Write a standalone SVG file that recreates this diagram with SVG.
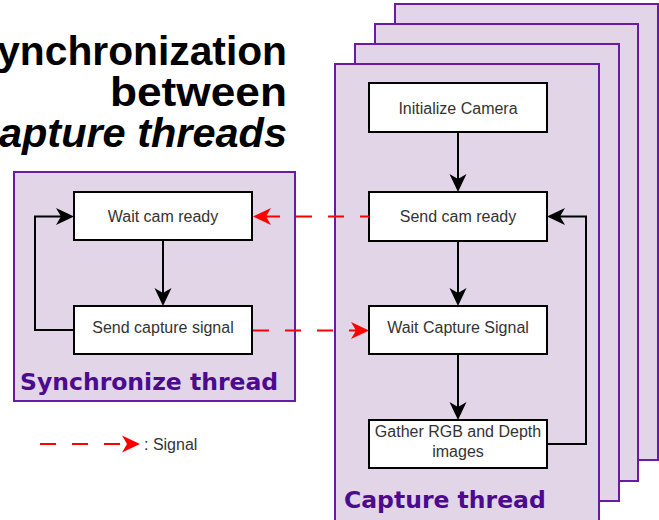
<svg xmlns="http://www.w3.org/2000/svg" width="659" height="520" viewBox="0 0 659 520">
<style>
.thread{fill:#e1d5e7;stroke:#6a1ba3;stroke-width:2}
.node{fill:#ffffff;stroke:#000000;stroke-width:2}
.nt{font-family:"Liberation Sans",Arial,sans-serif;font-size:16px;fill:#333333;text-anchor:middle}
.title{font-family:"Liberation Sans",Arial,sans-serif;font-size:40px;font-weight:bold;fill:#000000;text-anchor:end}
.tl{font-family:"DejaVu Sans",Verdana,sans-serif;font-size:23.5px;font-weight:bold;fill:#4c0a8e}
.flow{fill:none;stroke:#000000;stroke-width:2}
.sig{fill:none;stroke:#ff0000;stroke-width:2;stroke-dasharray:16 16}
</style>
<defs>
<marker id="ah" viewBox="-19 -10 20 20" refX="-13" refY="0" markerWidth="20" markerHeight="20" markerUnits="userSpaceOnUse" orient="auto"><path d="M0,0 L-18,-8.5 L-13,0 L-18,8.5 Z" fill="#000000"/></marker>
<marker id="ahr" viewBox="-19 -10 20 20" refX="-13" refY="0" markerWidth="20" markerHeight="20" markerUnits="userSpaceOnUse" orient="auto"><path d="M0,0 L-18,-8.5 L-13,0 L-18,8.5 Z" fill="#ff0000"/></marker>
</defs>

<g id="title">
<text class="title" x="287" y="65" textLength="317" lengthAdjust="spacingAndGlyphs">Synchronization</text>
<text class="title" x="287" y="106" textLength="177" lengthAdjust="spacingAndGlyphs">between</text>
<text class="title" x="287" y="147" font-style="italic" textLength="318" lengthAdjust="spacingAndGlyphs">Capture threads</text>
</g>

<g id="capture-stack">
<rect class="thread" x="395" y="4" width="263" height="456"/>
<rect class="thread" x="375" y="24" width="263" height="457"/>
<rect class="thread" x="355" y="44" width="264" height="457"/>
<rect class="thread" x="335" y="64" width="264" height="462"/>
<text class="tl" x="344" y="508">Capture thread</text>
</g>

<g id="sync-thread">
<rect class="thread" x="14" y="172" width="281" height="229"/>
<text class="tl" x="20" y="390">Synchronize thread</text>
</g>

<g id="wait-cam-ready">
<rect class="node" x="74" y="192" width="178" height="48"/>
<text class="nt" x="163" y="222">Wait cam ready</text>
</g>
<g id="send-capture-signal">
<rect class="node" x="74" y="306" width="178" height="48"/>
<text class="nt" x="163" y="333">Send capture signal</text>
</g>
<g id="initialize-camera">
<rect class="node" x="369" y="83" width="178" height="49"/>
<text class="nt" x="458" y="114">Initialize Camera</text>
</g>
<g id="send-cam-ready">
<rect class="node" x="369" y="192" width="178" height="49"/>
<text class="nt" x="458" y="222">Send cam ready</text>
</g>
<g id="wait-capture-signal">
<rect class="node" x="369" y="306" width="178" height="48"/>
<text class="nt" x="458" y="333">Wait Capture Signal</text>
</g>
<g id="gather-images">
<rect class="node" x="369" y="420" width="178" height="48"/>
<text class="nt" x="458" y="437">Gather RGB and Depth</text>
<text class="nt" x="458" y="457">images</text>
</g>

<g id="connectors">
<path class="flow" d="M163,240 L163,293" marker-end="url(#ah)"/>
<path class="flow" d="M74,330 L35,330 L35,216.5 L61,216.5" marker-end="url(#ah)"/>
<path class="flow" d="M458,132 L458,179" marker-end="url(#ah)"/>
<path class="flow" d="M458,241 L458,293" marker-end="url(#ah)"/>
<path class="flow" d="M458,354 L458,407" marker-end="url(#ah)"/>
<path class="flow" d="M547,444 L586,444 L586,216.5 L560,216.5" marker-end="url(#ah)"/>
<path class="sig" stroke-dashoffset="7" d="M369,216.5 L266,216.5" marker-end="url(#ahr)"/>
<path class="sig" d="M253,330.5 L356,330.5" marker-end="url(#ahr)"/>
</g>

<g id="legend">
<path class="sig" d="M40,444 L127,444" marker-end="url(#ahr)"/>
<text x="144" y="449.5" font-family="Liberation Sans,Arial,sans-serif" font-size="16" fill="#333333">: Signal</text>
</g>
</svg>
